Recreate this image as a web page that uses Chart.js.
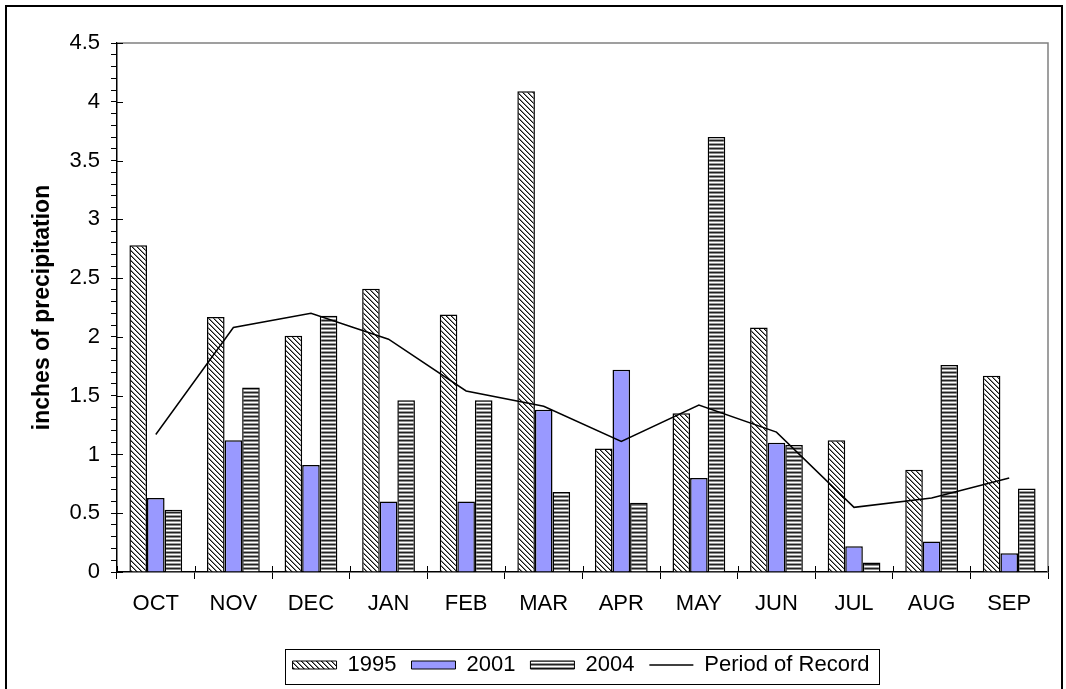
<!DOCTYPE html>
<html lang="en">
<head>
    <meta charset="UTF-8">
    <title>Monthly precipitation</title>
    <style>
        body {
            margin: 0;
            padding: 0;
            background: #ffffff;
        }
        .chart-box {
            position: relative;
            width: 1066px;
            height: 689px;
        }
    </style>
    <script src="https://cdn.jsdelivr.net/npm/chart.js"></script>
</head>
<body>
    <div class="chart-box">
        <canvas id="precipChart" width="1066" height="689"></canvas>
    </div>

    <script>
        // data
        const months = ['OCT', 'NOV', 'DEC', 'JAN', 'FEB', 'MAR', 'APR', 'MAY', 'JUN', 'JUL', 'AUG', 'SEP'];
        const precip1995 = [2.78, 2.17, 2.01, 2.41, 2.19, 4.09, 1.05, 1.35, 2.08, 1.12, 0.87, 1.67];
        const precip2001 = [0.63, 1.12, 0.91, 0.60, 0.60, 1.38, 1.72, 0.80, 1.10, 0.22, 0.26, 0.16];
        const precip2004 = [0.53, 1.57, 2.18, 1.46, 1.46, 0.68, 0.59, 3.70, 1.08, 0.08, 1.76, 0.71];
        const periodOfRecord = [1.17, 2.08, 2.20, 1.98, 1.54, 1.41, 1.11, 1.42, 1.19, 0.55, 0.63, 0.80];
        const yMax = 4.5;
        const yMinorStep = 0.1;
        const yMajorStep = 0.5;

        const canvas = document.getElementById('precipChart');
        const ctx = canvas.getContext('2d');
        const fontFamily = 'Liberation Sans, Arial, sans-serif';

        // diagonal hatch for 1995
        function diagPattern() {
            const c = document.createElement('canvas');
            c.width = 5; c.height = 5;
            const g = c.getContext('2d');
            g.fillStyle = '#ffffff';
            g.fillRect(0, 0, 5, 5);
            for (let i = 0; i < 5; i++) {
                g.fillStyle = '#111111';
                g.fillRect(i, i, 1, 1);
                g.fillStyle = '#8a8a8a';
                g.fillRect((i + 1) % 5, i, 1, 1);
            }
            return ctx.createPattern(c, 'repeat');
        }

        // horizontal stripes for 2004
        function stripePattern() {
            const c = document.createElement('canvas');
            c.width = 4; c.height = 4;
            const g = c.getContext('2d');
            const rows = ['#222222', '#8c8c8c', '#ffffff', '#9a9a9a'];
            rows.forEach((col, i) => {
                g.fillStyle = col;
                g.fillRect(0, i, 4, 1);
            });
            return ctx.createPattern(c, 'repeat');
        }

        const isMajor = v => Math.abs(v / yMajorStep - Math.round(v / yMajorStep)) < 1e-6;

        // frame, plot border, legend box and the inner half of the major ticks
        const decorations = {
            id: 'decorations',
            afterLayout(chart) {
                // the legend sits right of centre in the original
                const lg = chart.legend;
                const shift = 581 - (lg.left + lg.right) / 2;
                lg.left += shift;
                lg.right += shift;
            },
            beforeDraw(chart) {
                const c = chart.ctx;
                c.save();
                c.fillStyle = '#ffffff';
                c.fillRect(0, 0, chart.width, chart.height);
                c.restore();
            },
            afterDatasetsDraw(chart) {
                const c = chart.ctx;
                const a = chart.chartArea;
                const x = chart.scales.x;
                const y = chart.scales.y;
                c.save();
                c.strokeStyle = '#808080';
                c.lineWidth = 1.5;
                c.beginPath();
                c.moveTo(a.left, a.top);
                c.lineTo(a.right, a.top);
                c.lineTo(a.right, a.bottom);
                c.stroke();

                c.strokeStyle = '#000000';
                c.lineWidth = 1;
                c.beginPath();
                for (let v = 0; v <= yMax + 1e-9; v += yMajorStep) {
                    const py = Math.round(y.getPixelForValue(v)) + 0.5;
                    c.moveTo(a.left, py);
                    c.lineTo(a.left + 6, py);
                }
                const step = (a.right - a.left) / months.length;
                for (let i = 0; i <= months.length; i++) {
                    const px = Math.round(x.getPixelForValue(i) - step / 2) + 0.5;
                    c.moveTo(px, a.bottom);
                    c.lineTo(px, a.bottom - 6);
                }
                c.stroke();
                c.restore();
            },
            afterDraw(chart) {
                const c = chart.ctx;
                c.save();
                c.strokeStyle = '#000000';
                c.lineWidth = 2;
                c.strokeRect(6, 6, 1056, 700);

                const boxes = chart.legend.legendHitBoxes;
                if (boxes && boxes.length) {
                    const l = Math.min(...boxes.map(b => b.left));
                    const r = Math.max(...boxes.map(b => b.left + b.width));
                    const t = boxes[0].top;
                    const h = boxes[0].height;
                    c.lineWidth = 1;
                    c.strokeRect(Math.round(l - 8) + 0.5, Math.round(t - 5) + 0.5,
                        Math.round(r - l + 17), Math.round(h + 13));
                }
                c.restore();
            }
        };

        const precipChart = new Chart(ctx, {
            type: 'bar',
            data: {
                labels: months,
                datasets: [
                    {
                        label: '1995',
                        data: precip1995,
                        backgroundColor: diagPattern(),
                        borderColor: '#000000',
                        borderWidth: 1.5,
                        order: 1
                    },
                    {
                        label: '2001',
                        data: precip2001,
                        backgroundColor: '#9999ff',
                        borderColor: '#000000',
                        borderWidth: 1.5,
                        order: 1
                    },
                    {
                        label: '2004',
                        data: precip2004,
                        backgroundColor: stripePattern(),
                        borderColor: '#000000',
                        borderWidth: 1.5,
                        order: 1
                    },
                    {
                        type: 'line',
                        label: 'Period of Record',
                        data: periodOfRecord,
                        borderColor: '#000000',
                        backgroundColor: '#000000',
                        borderWidth: 1.5,
                        pointRadius: 0,
                        pointStyle: 'line',
                        tension: 0,
                        order: 0
                    }
                ]
            },
            options: {
                responsive: false,
                animation: false,
                devicePixelRatio: 1,
                categoryPercentage: 0.68,
                barPercentage: 1.0,
                layout: {
                    padding: { left: 0, top: 43, right: 18, bottom: 3 }
                },
                plugins: {
                    title: { display: false },
                    tooltip: { enabled: false },
                    legend: {
                        display: true,
                        position: 'bottom',
                        labels: {
                            color: '#000000',
                            font: { family: fontFamily, size: 22 },
                            usePointStyle: true,
                            pointStyleWidth: 44,
                            boxHeight: 8,
                            padding: 15,
                            sort: (a, b) => a.datasetIndex - b.datasetIndex,
                            generateLabels(chart) {
                                const items = Chart.defaults.plugins.legend.labels.generateLabels(chart);
                                items.forEach(it => {
                                    const isLine = it.datasetIndex === 3;
                                    it.pointStyle = isLine ? 'line' : 'rect';
                                    it.strokeStyle = '#000000';
                                    it.lineWidth = isLine ? 1.5 : 1;
                                });
                                return items;
                            }
                        }
                    }
                },
                scales: {
                    x: {
                        offset: true,
                        border: { display: true, color: '#000000', width: 1.5 },
                        grid: {
                            offset: true,
                            drawOnChartArea: false,
                            drawTicks: true,
                            tickLength: 7,
                            color: '#000000'
                        },
                        ticks: {
                            color: '#000000',
                            padding: 12,
                            font: { family: fontFamily, size: 22 }
                        },
                        afterFit(scale) {
                            scale.height = 67;
                        }
                    },
                    y: {
                        min: 0,
                        max: yMax,
                        border: { display: true, color: '#000000', width: 1.5 },
                        grid: {
                            drawOnChartArea: false,
                            drawTicks: true,
                            tickLength: 6,
                            color: '#000000'
                        },
                        ticks: {
                            stepSize: yMinorStep,
                            maxTicksLimit: 100,
                            autoSkip: false,
                            color: '#000000',
                            padding: 11,
                            font: { family: fontFamily, size: 22 },
                            callback(value) {
                                if (!isMajor(value)) return '';
                                return String(Math.round(value / yMajorStep) * yMajorStep);
                            }
                        },
                        title: {
                            display: true,
                            text: 'inches of precipitation',
                            color: '#000000',
                            font: { family: fontFamily, size: 23, weight: 'bold' },
                            padding: { top: 29, bottom: 0 }
                        },
                        afterFit(scale) {
                            scale.width = 117;
                        }
                    }
                }
            },
            plugins: [decorations]
        });
    </script>
</body>
</html>
